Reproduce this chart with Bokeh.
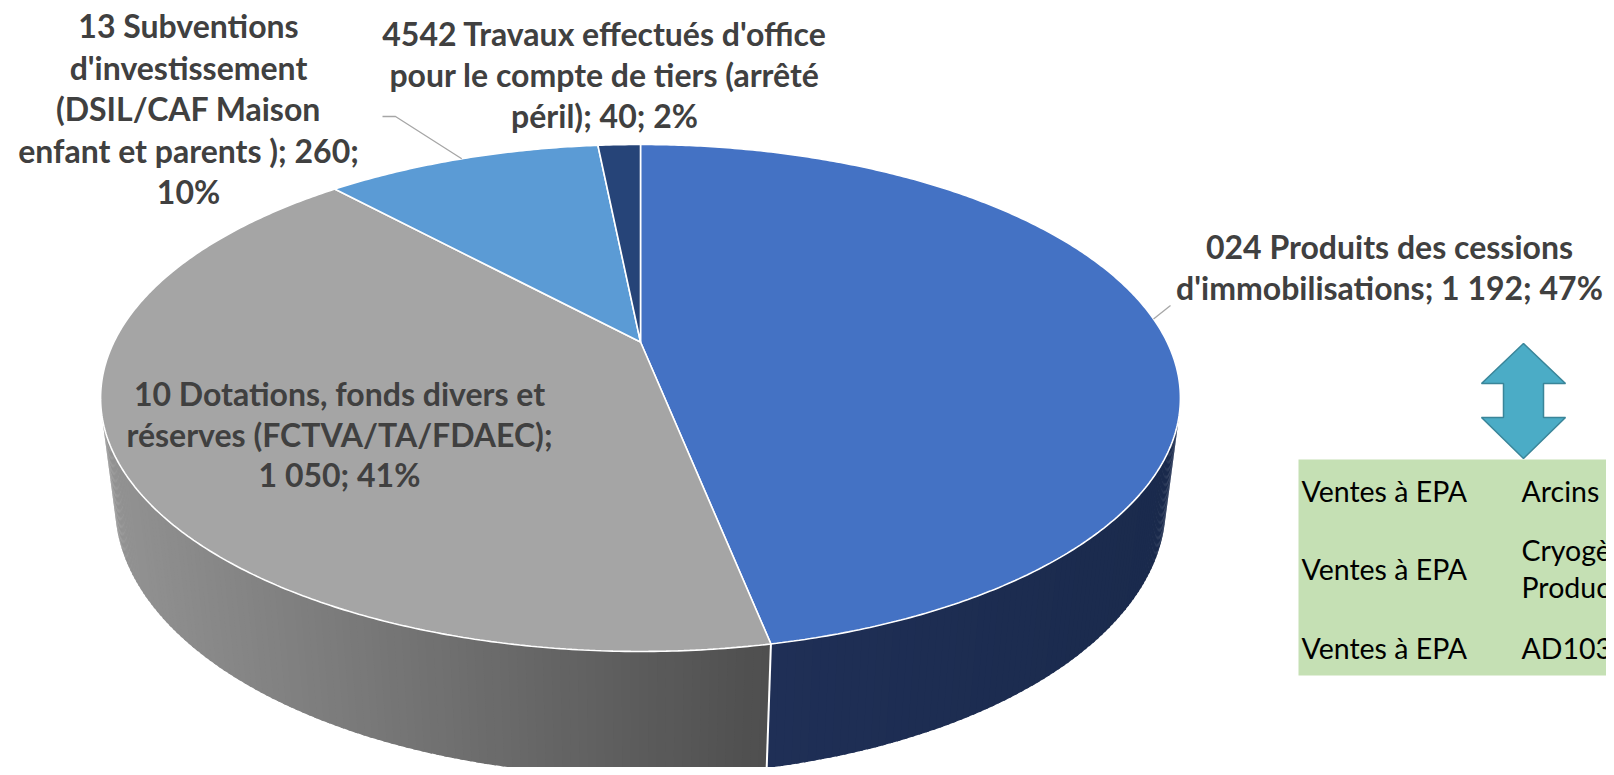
import numpy as np
from bokeh.plotting import figure
from bokeh.models import Range1d
from bokeh.core.properties import value
from bokeh.embed import file_html
from bokeh.resources import INLINE

# ---------------- data ----------------
categories = [
    "024 Produits des cessions d'immobilisations",
    "10 Dotations, fonds divers et réserves (FCTVA/TA/FDAEC)",
    "13 Subventions d'investissement (DSIL/CAF Maison enfant et parents )",
    "4542 Travaux effectués d'office pour le compte de tiers (arrêté péril)",
]
values = [1192, 1050, 260, 40]
label_lines = [
    ["024 Produits des cessions", "d'immobilisations; {v}; {p}"],
    ["10 Dotations, fonds divers et", "réserves (FCTVA/TA/FDAEC);", "{v}; {p}"],
    ["13 Subventions", "d'investissement", "(DSIL/CAF Maison", "enfant et parents ); {v};", "{p}"],
    ["4542 Travaux effectués d'office", "pour le compte de tiers (arrêté", "péril); {v}; {p}"],
]
top_colors = ["#4472C4", "#A5A5A5", "#5B9BD5", "#264478"]
table_col1 = ["Ventes à EPA", "Ventes à EPA", "Ventes à EPA"]
table_col2 = [["Arcins Est"], ["Cryogène", "Production"], ["AD103"]]

# ---------------- layout ----------------
W, H = 1606, 767
p = figure(width=W, height=H, x_range=Range1d(0, W), y_range=Range1d(H, 0),
           output_backend="svg", toolbar_location=None, min_border=0,
           x_axis_location=None, y_axis_location=None)
p.grid.visible = False
p.outline_line_color = None
p.background_fill_color = "white"

# perspective camera for the 3D pie
F, L = 2120.0, 4.026
el = np.arcsin(0.4579)
T = 0.2314
X0, Y0 = 640.0, 341.5


def proj(theta, z):
    th = np.radians(theta)
    s, c = np.sin(th), np.cos(th)
    depth = L + c * np.cos(el) - z * np.sin(el)
    return X0 + F * s / depth, Y0 - F * (c * np.sin(el) + z * np.cos(el)) / depth


total = float(sum(values))
fr = np.array(values) / total
ends = np.cumsum(fr) * 360.0
starts = np.concatenate([[0.0], ends[:-1]])

# ---- sides (visible front part) ----
d = L * np.cos(el)
sil = np.degrees(np.arccos(-1.0 / d))  # right silhouette
vis0, vis1 = sil, 360.0 - sil


def lerp_hex(c1, c2, t):
    a = np.array([int(c1[i:i + 2], 16) for i in (1, 3, 5)], float)
    b = np.array([int(c2[i:i + 2], 16) for i in (1, 3, 5)], float)
    r = a + (b - a) * t
    return "#%02x%02x%02x" % tuple(int(round(x)) for x in r)


side_xs, side_ys, side_cols = [], [], []
xl, _ = proj(vis1, 0)
xf, _ = proj(ends[0], 0)
for i in range(len(values)):
    a0, a1 = max(starts[i], vis0), min(ends[i], vis1)
    if a1 <= a0:
        continue
    n = max(2, int((a1 - a0) / 0.75))
    grid = np.linspace(a0, a1, n + 1)
    step = grid[1] - grid[0]
    for k in range(n):
        g0 = grid[k]
        g1 = min(grid[k + 1] + 0.45 * step, a1)
        tx0, ty0 = proj(g0, 0)
        tx1, ty1 = proj(g1, 0)
        bx1, by1 = proj(g1, -T)
        bx0, by0 = proj(g0, -T)
        side_xs.append([tx0, tx1, bx1, bx0])
        side_ys.append([ty0, ty1, by1, by0])
        xm = 0.5 * (tx0 + tx1)
        if i == 0:
            tt = (xm - xf) / (1180 - xf)
            col = lerp_hex("#1F2F56", "#1A2A4C", min(max(tt, 0), 1))
        else:
            tt = (xm - xl) / (xf - xl)
            col = lerp_hex("#939393", "#4E4E4E", min(max(tt, 0), 1))
        side_cols.append(col)
p.patches(side_xs, side_ys, fill_color=side_cols, line_color=None)

# boundary line on the side between blue and grey slice
bx_t, by_t = proj(ends[0], 0)
bx_b, by_b = proj(ends[0], -T)
p.line([bx_t, bx_b], [by_t, by_b], line_color="white", line_width=2)

# ---- top face ----
top_xs, top_ys = [], []
for i in range(len(values)):
    n = max(4, int((ends[i] - starts[i]) / 0.5))
    th = np.linspace(starts[i], ends[i], n + 1)
    x, y = proj(th, 0)
    top_xs.append([X0] + list(x))
    top_ys.append([Y0] + list(y))
p.patches(top_xs, top_ys, fill_color=top_colors, line_color="white", line_width=1.6)

# ---- labels ----
def fmt_val(v):
    return "{:,}".format(v).replace(",", " ")


label_pos = [(1389, 246, 40.5), (339, 393, 40.5), (188, 25, 41.5), (604, 33, 41.0)]
for i, lines in enumerate(label_lines):
    cx, cy, lh = label_pos[i]
    pct = "%d%%" % round(fr[i] * 100)
    txt = [s.format(v=fmt_val(values[i]), p=pct) for s in lines]
    p.text(x=[cx] * len(txt), y=[cy + k * lh for k in range(len(txt))], text=txt,
           text_font=value("Lato"), text_font_style="bold", text_font_size="32px",
           text_color="#404040", text_align="center", text_baseline="middle")

# leader lines
mid0 = 0.5 * (starts[0] + ends[0])
mx, my = proj(mid0, 0)
p.line([1170, mx], [305, my], line_color="#A6A6A6", line_width=1.3)
mid2 = 0.5 * (starts[2] + ends[2])
mx, my = proj(mid2, 0)
p.line([382, 395, mx], [116, 116, my], line_color="#A6A6A6", line_width=1.3)

# ---- double arrow ----
ax, atop, abot = 1523, 343, 458
hw, sw, hb1, hb2 = 42, 20, 383, 417
p.patch([ax, ax - hw, ax - sw, ax - sw, ax - hw, ax, ax + hw, ax + sw, ax + sw, ax + hw],
        [atop, hb1, hb1, hb2, hb2, abot, hb2, hb2, hb1, hb1],
        fill_color="#4BACC6", line_color="#3A8599", line_width=1.5)

# ---- table ----
p.quad(left=[1298], right=[1700], top=[459], bottom=[675], fill_color="#C5E0B4", line_color=None)
row_y = [490, 568, 647]
p.text(x=[1301] * 3, y=row_y, text=table_col1, text_font=value("Lato"), text_font_size="28.5px",
       text_color="#000000", text_align="left", text_baseline="middle")
for r, lines in enumerate(table_col2):
    nl = len(lines)
    ys = [row_y[r] + (k - (nl - 1) / 2) * 37 for k in range(nl)]
    p.text(x=[1521] * nl, y=ys, text=lines, text_font=value("Lato"), text_font_size="28.5px",
           text_color="#000000", text_align="left", text_baseline="middle")

open("out.html", "w").write(file_html(p, INLINE))
